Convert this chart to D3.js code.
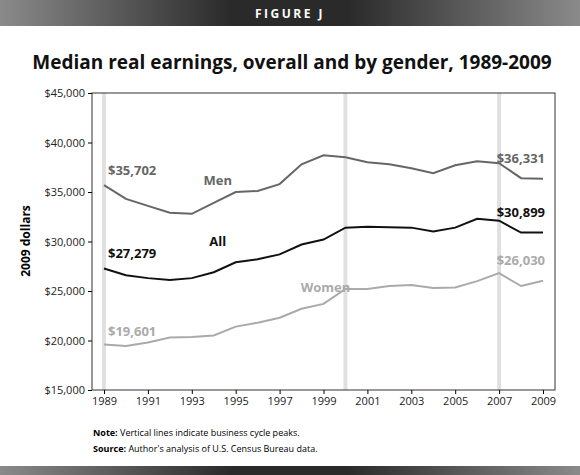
<!DOCTYPE html><html><head><meta charset="utf-8"><script src="https://cdn.jsdelivr.net/npm/d3@7"></script>
<style>body{margin:0;background:#fff}text{font-family:"Open Sans",sans-serif}</style></head><body><svg id="c" width="580" height="475"></svg>
<script>
const years=d3.range(1989,2010);
const men=[35702,34300,33600,32900,32800,33900,35000,35100,35800,37800,38700,38500,38000,37800,37400,36900,37700,38100,37900,36400,36331];
const all=[27279,26600,26300,26100,26300,26900,27900,28200,28700,29700,30200,31400,31500,31450,31400,31000,31400,32300,32100,30900,30899];
const women=[19601,19450,19800,20300,20350,20500,21400,21800,22300,23200,23700,25200,25200,25500,25600,25300,25350,26000,26800,25500,26030];
const peaks=[1989,2000,2007];
const yTicks=[15000,20000,25000,30000,35000,40000,45000];
const xTicks=d3.range(1989,2010,2);
const svg=d3.select("#c");
const defs=svg.append("defs");
const g1=defs.append("linearGradient").attr("id","hg");
[["0%","#8a8a8a"],["40%","#2a2a2a"],["60%","#2a2a2a"],["100%","#8a8a8a"]].forEach(s=>g1.append("stop").attr("offset",s[0]).attr("stop-color",s[1]));
svg.append("rect").attr("width",580).attr("height",26).attr("fill","url(#hg)");
svg.append("text").attr("x",290).attr("y",18).attr("text-anchor","middle").attr("fill","#fff").attr("font-weight","bold").attr("font-size",12).attr("letter-spacing",2.5).text("FIGURE J");
svg.append("rect").attr("y",466).attr("width",580).attr("height",9).attr("fill","url(#hg)");
svg.append("text").attr("x",292).attr("y",69).attr("text-anchor","middle").attr("font-weight","bold").attr("font-size",19).attr("fill","#111").text("Median real earnings, overall and by gender, 1989-2009");
const L=92,R=555,T=93,B=390;
const x=d3.scaleLinear().domain([1989,2009]).range([104,543]);
const y=d3.scaleLinear().domain([15000,45000]).range([B,T]);
peaks.forEach(p=>svg.append("line").attr("x1",x(p)).attr("x2",x(p)).attr("y1",T).attr("y2",B).attr("stroke","#e0e0e0").attr("stroke-width",4));
svg.append("rect").attr("x",L).attr("y",T).attr("width",R-L).attr("height",B-T).attr("fill","none").attr("stroke","#333").attr("stroke-width",1);
const ya=svg.append("g").attr("transform",`translate(${L},0)`).call(d3.axisLeft(y).tickValues(yTicks).tickSize(4).tickFormat(d=>"$"+d3.format(",")(d)));
ya.select(".domain").remove();
ya.selectAll("text").attr("font-size",11).attr("fill","#222").attr("font-family","Open Sans");
const xa=svg.append("g").attr("transform",`translate(0,${B})`).call(d3.axisBottom(x).tickValues(xTicks).tickSize(4).tickFormat(d3.format("d")));
xa.select(".domain").remove();
xa.selectAll("text").attr("font-size",11).attr("fill","#222").attr("font-family","Open Sans");
svg.append("text").attr("transform","translate(30,241) rotate(-90)").attr("text-anchor","middle").attr("font-weight","bold").attr("font-size",12).text("2009 dollars");
const line=d3.line().x((d,i)=>x(years[i])).y(d=>y(d));
[[women,"#aaa"],[men,"#666"],[all,"#111"]].forEach(([d,c])=>svg.append("path").attr("d",line(d)).attr("fill","none").attr("stroke",c).attr("stroke-width",2));
const lab=(t,xx,yy,c,anchor="start")=>svg.append("text").attr("x",xx).attr("y",yy).attr("fill",c).attr("font-weight","bold").attr("font-size",13).attr("text-anchor",anchor).text(t);
lab("$35,702",x(1989)+4,y(men[0])-10,"#666");
lab("$27,279",x(1989)+4,y(all[0])-10,"#111");
lab("$19,601",x(1989)+4,y(women[0])-8,"#aaa");
lab("$36,331",x(2009)+2,y(men[20])-16,"#666","end");
lab("$30,899",x(2009)+2,y(all[20])-16,"#111","end");
lab("$26,030",x(2009)+2,y(women[20])-16,"#aaa","end");
lab("Men",x(1994)+4,y(men[5])-18,"#666","middle");
lab("All",x(1994)+4,y(all[5])-26,"#111","middle");
lab("Women",x(1999)+2,y(women[10])-12,"#aaa","middle");
svg.append("text").attr("x",93).attr("y",436).attr("font-size",9).html('<tspan font-weight="bold">Note:</tspan> Vertical lines indicate business cycle peaks.');
svg.append("text").attr("x",93).attr("y",452).attr("font-size",9).html('<tspan font-weight="bold">Source:</tspan> Author\'s analysis of U.S. Census Bureau data.');
</script></body></html>
